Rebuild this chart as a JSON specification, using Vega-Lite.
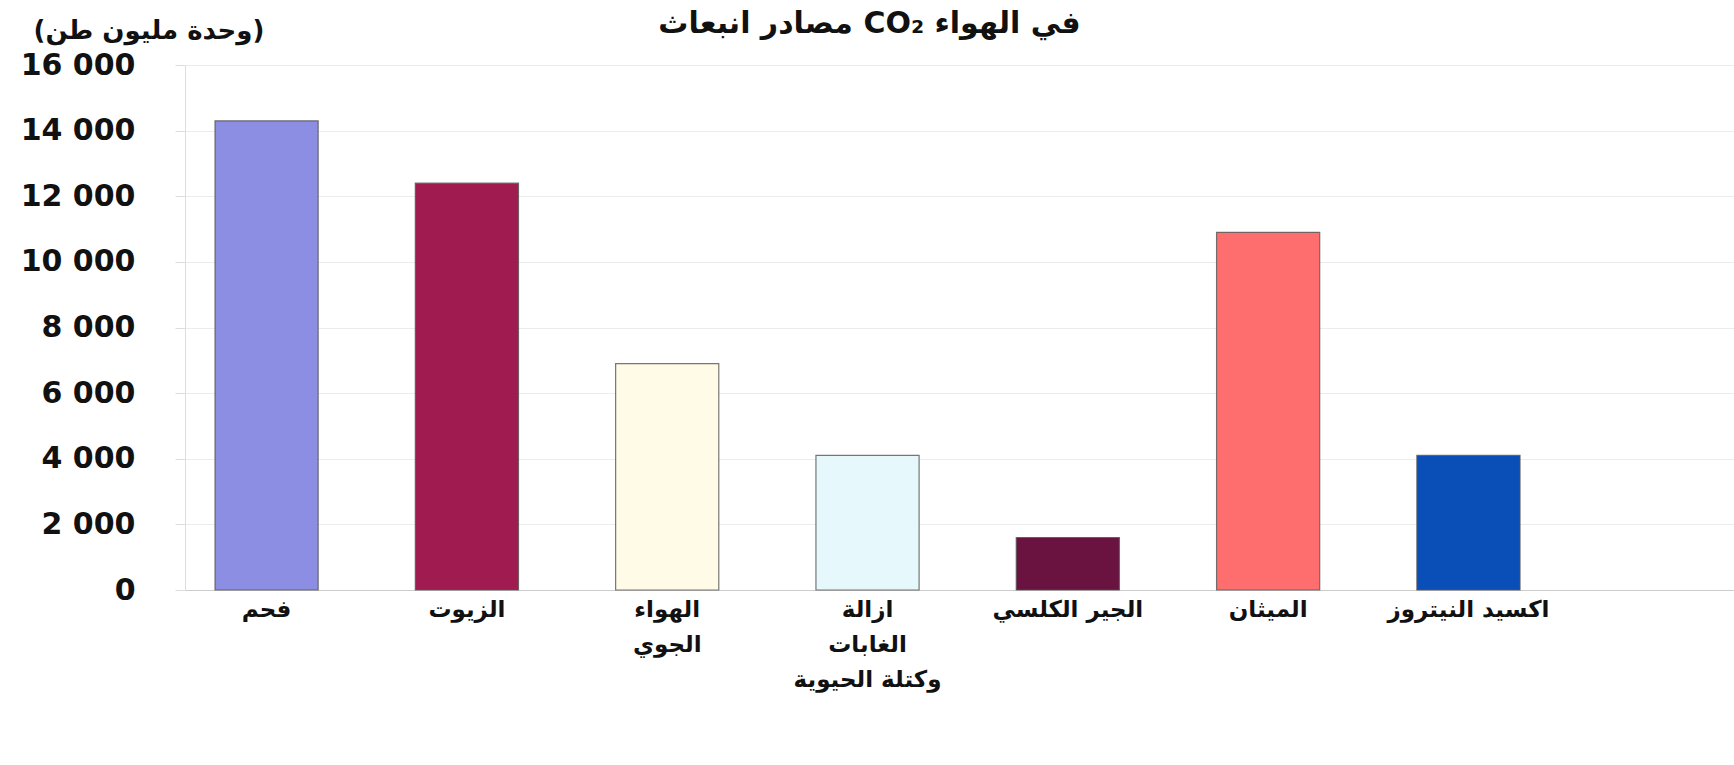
{
  "$schema": "https://vega.github.io/schema/vega-lite/v6.json",
  "width": 1549,
  "height": 525,
  "autosize": {"type": "none"},
  "padding": {"left": 185, "top": 65, "right": 0, "bottom": 175},
  "background": "white",
  "title": {
    "text": "مصادر انبعاث CO₂ في الهواء",
    "font": "DejaVu Sans",
    "fontSize": 30,
    "fontWeight": "bold",
    "color": "#111",
    "anchor": "middle",
    "dx": -90,
    "offset": -22
  },
  "data": {
    "values": [
      {"source": "فحم", "value": 14300},
      {"source": "الزيوت", "value": 12400},
      {"source": "الهواء\nالجوي", "value": 6900},
      {"source": "ازالة\nالغابات\nوكتلة الحيوية", "value": 4100},
      {"source": "الجير الكلسي", "value": 1600},
      {"source": "الميثان", "value": 10900},
      {"source": "اكسيد النيتروز", "value": 4100}
    ]
  },
  "mark": {"type": "bar", "stroke": "#555", "strokeWidth": 1.2, "strokeOpacity": 0.8},
  "encoding": {
    "x": {
      "field": "source",
      "type": "nominal",
      "sort": null,
      "scale": {"paddingInner": 0.485, "paddingOuter": 0.609, "align": 0.123},
      "axis": {
        "title": null,
        "labelAngle": 0,
        "labelExpr": "split(datum.value, '\\n')",
        "labelFont": "DejaVu Sans",
        "labelFontSize": 23,
        "labelFontWeight": "bold",
        "labelColor": "#111",
        "labelLineHeight": 35,
        "labelPadding": 8,
        "labelOverlap": false,
        "labelLimit": 400,
        "domainColor": "#cccccc",
        "ticks": false
      }
    },
    "y": {
      "field": "value",
      "type": "quantitative",
      "scale": {"domain": [0, 16000], "nice": false},
      "axis": {
        "values": [0, 2000, 4000, 6000, 8000, 10000, 12000, 14000, 16000],
        "labelExpr": "replace(format(datum.value, ','), ',', ' ')",
        "labelFont": "DejaVu Sans",
        "labelFontSize": 30,
        "labelFontWeight": "bold",
        "labelColor": "#111",
        "labelPadding": 40,
        "tickColor": "#dddddd",
        "tickSize": 10,
        "domainColor": "#dddddd",
        "gridColor": "#ececec",
        "title": "(وحدة مليون طن)",
        "titleFont": "DejaVu Sans",
        "titleFontSize": 26,
        "titleFontWeight": "bold",
        "titleColor": "#111",
        "titleAngle": 0,
        "titleAlign": "left",
        "titleBaseline": "middle",
        "titleX": -152,
        "titleY": -35
      }
    },
    "color": {
      "field": "source",
      "type": "nominal",
      "sort": null,
      "legend": null,
      "scale": {
        "domain": ["فحم", "الزيوت", "الهواء\nالجوي", "ازالة\nالغابات\nوكتلة الحيوية", "الجير الكلسي", "الميثان", "اكسيد النيتروز"],
        "range": ["#8b8ee3", "#a01c50", "#fffbe6", "#e6f8fb", "#6a1240", "#ff6e6e", "#0a4fb8"]
      }
    }
  }
}
